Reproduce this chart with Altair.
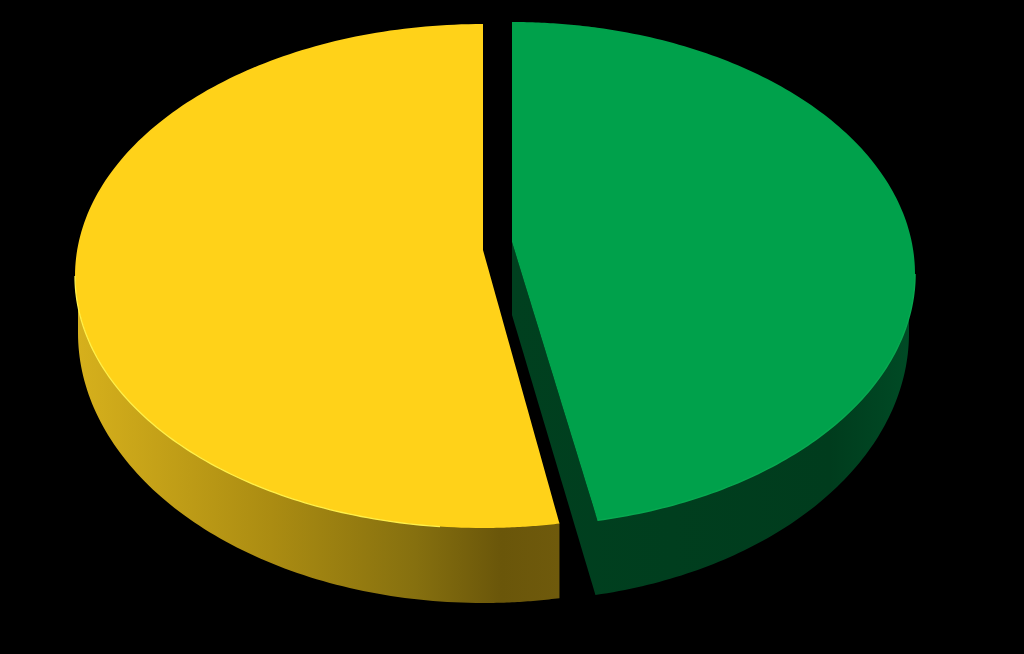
import numpy as np
import pandas as pd
import altair as alt

# Values
slices = ["Yellow", "Green"]
shares = [53.0, 46.6]  # percent of the full turn swept by each slice

# Disc shape for each slice: centre x, top centre y, radii, apex y, wall centre y, wall radii
yellow_disc = dict(cx=483, cy=276, rx=408, ry=252, apex=250, wall_cx=483, wall_cy=333, wall_rx=405, wall_ry=270)
green_disc = dict(cx=512, cy=274, rx=403, ry=252, apex=242, wall_cx=512, wall_cy=333, wall_rx=397, wall_ry=268)

YELLOW = "#ffd219"
YELLOW_EDGE = "#fff04a"
GREEN = "#00a14b"
GREEN_EDGE = "#07a850"
GREEN_WALL_STOPS = [(0, "#00401f"), (0.8, "#003c1d"), (1, "#004a25")]
YELLOW_WALL_STOPS = [(0, "#d6b01c"), (0.4, "#ab8c12"), (0.7, "#86700f"), (0.88, "#6a560a"), (1, "#6f5a0c")]
EDGE_END_X = 440

N = 90


def lower(d, x, wall=False):
    cx, cy, rx, ry = (d["wall_cx"], d["wall_cy"], d["wall_rx"], d["wall_ry"]) if wall else (d["cx"], d["cy"], d["rx"], d["ry"])
    return cy + ry * np.sqrt(np.clip(1 - ((x - cx) / rx) ** 2, 0, 1))


def upper(d, x):
    return d["cy"] - d["ry"] * np.sqrt(np.clip(1 - ((x - d["cx"]) / d["rx"]) ** 2, 0, 1))


def xs(c, r, a0, a1, n=N):
    return c + r * np.sin(np.linspace(a0, a1, n))


def frame(x, y, y2):
    return pd.DataFrame({"px": x, "top": y, "bot": y2})


yd, gd = yellow_disc, green_disc
y_sweep = 2 * np.pi * shares[0] / 100
g_sweep = 2 * np.pi * shares[1] / 100
y_end = yd["cx"] - yd["rx"] * np.sin(y_sweep)     # x where the yellow slice's cut meets the rim
g_end = gd["cx"] + gd["rx"] * np.sin(g_sweep)     # x where the green slice's cut meets the rim
y_end_y = lower(yd, y_end)
g_end_y = lower(gd, g_end)

# Yellow top face
xl = xs(yd["cx"], yd["rx"], -np.pi / 2, 0)
xr = np.linspace(yd["cx"], y_end, 30)
yellow_top = pd.concat([
    frame(xl, upper(yd, xl), lower(yd, xl)),
    frame(xr, yd["apex"] + (y_end_y - yd["apex"]) * (xr - yd["cx"]) / (y_end - yd["cx"]), lower(yd, xr)),
], ignore_index=True)

# Yellow wall
xw = np.unique(np.concatenate([xs(yd["wall_cx"], yd["wall_rx"], -np.pi / 2, 0), np.linspace(yd["wall_cx"], y_end, 30)]))
yellow_wall = frame(xw, lower(yd, xw) - 1, lower(yd, xw, wall=True))

# Green top face
xa = np.linspace(gd["cx"], g_end, 30)
xb = xs(gd["cx"], gd["rx"], np.arcsin((g_end - gd["cx"]) / gd["rx"]), np.pi / 2)
green_top = pd.concat([
    frame(xa, upper(gd, xa), gd["apex"] + (g_end_y - gd["apex"]) * (xa - gd["cx"]) / (g_end - gd["cx"])),
    frame(xb, upper(gd, xb), lower(gd, xb)),
], ignore_index=True)

# Green walls: the cut face, then the outer rim
wall_drop = 73
g_wall_end = g_end - 2
g_wall_y = lower(gd, g_wall_end, wall=True)
xc = np.linspace(gd["cx"], g_wall_end, 30)
xd = xs(gd["wall_cx"], gd["wall_rx"], np.arcsin((g_wall_end - gd["wall_cx"]) / gd["wall_rx"]), np.pi / 2)
cut_top = lambda x: gd["apex"] + (g_end_y - gd["apex"]) * np.minimum(x - gd["cx"], g_end - gd["cx"]) / (g_end - gd["cx"])
green_wall = pd.concat([
    frame(xc, cut_top(xc), gd["apex"] + wall_drop + (g_wall_y - gd["apex"] - wall_drop) * (xc - gd["cx"]) / (g_wall_end - gd["cx"])),
    frame(xd, np.where(xd < g_end, cut_top(xd), lower(gd, xd) - 1), lower(gd, xd, wall=True)),
], ignore_index=True)

# Bright bevel along the front rims
xe = xs(yd["cx"], yd["rx"], -np.pi / 2, np.arcsin((EDGE_END_X - yd["cx"]) / yd["rx"]))
yellow_edge = frame(xe, lower(yd, xe), lower(yd, xe))
green_edge = frame(xb, lower(gd, xb), lower(gd, xb))

xsc = alt.Scale(domain=[0, 1024], range=[0, 1024], nice=False, zero=False)
ysc = alt.Scale(domain=[0, 654], range=[0, 654], nice=False, zero=False)
X = alt.X("px:Q", scale=xsc, axis=None)
Y = alt.Y("top:Q", scale=ysc, axis=None)


def area(df, color):
    return alt.Chart(df).mark_area(color=color, opacity=1, line=False).encode(
        x=X, y=Y, y2=alt.Y2("bot")
    )


def rim(df, color, w):
    return alt.Chart(df).mark_line(color=color, strokeWidth=w).encode(x=X, y=Y)


def gradient(stops):
    return alt.Gradient(
        gradient="linear", x1=0, y1=0, x2=1, y2=0,
        stops=[alt.GradientStop(offset=o, color=c) for o, c in stops],
    )


chart = alt.layer(
    area(yellow_wall, gradient(YELLOW_WALL_STOPS)),
    area(green_wall, gradient(GREEN_WALL_STOPS)),
    area(yellow_top, YELLOW),
    area(green_top, GREEN),
    rim(yellow_edge, YELLOW_EDGE, 1.3),
    rim(green_edge, GREEN_EDGE, 1.5),
).properties(
    width=1024, height=654, background="#000000", padding=0,
    autosize=alt.AutoSizeParams(type="none"),
).configure_view(stroke=None)

chart.save("out.html", embed_options={
    "renderer": "svg", "actions": False,
    "defaultStyle": "html,body{margin:0;padding:0;background:#000;overflow:hidden}",
})
